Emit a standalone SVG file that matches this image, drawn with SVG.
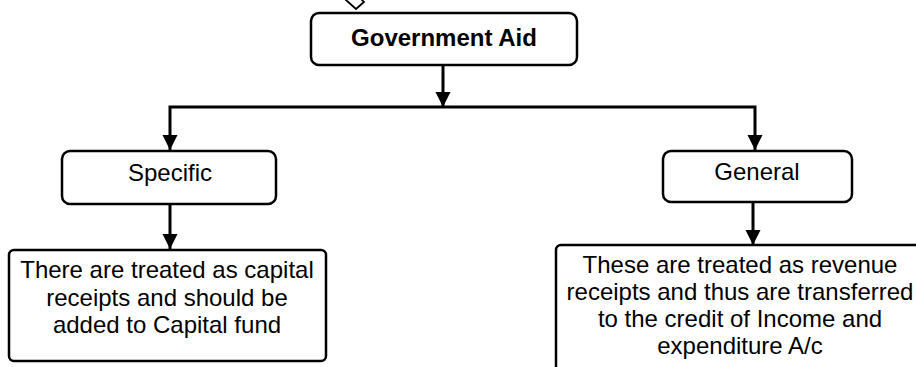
<svg xmlns="http://www.w3.org/2000/svg" width="916" height="367" viewBox="0 0 916 367">
  <style>
    .box { fill: #ffffff; stroke: #000000; stroke-width: 2.5; }
    .lbl { font-family: "Liberation Sans", Arial, sans-serif; font-size: 24px; fill: #000000; text-anchor: middle; }
    .bold { font-weight: bold; }
    .wire { fill: none; stroke: #000000; stroke-width: 3; stroke-linejoin: miter; }
  </style>
  <defs>
    <marker id="arrow" markerUnits="userSpaceOnUse" markerWidth="16" markerHeight="16" refX="15" refY="7.5" orient="auto">
      <path d="M0,0 L15,7.5 L0,15 Z" fill="#000000"/>
    </marker>
  </defs>

  <rect width="916" height="367" fill="#ffffff"/>

  <!-- small tilted tab above the root box -->
  <polygon points="346,0 356,9 364,2 355,-7" fill="#ffffff" stroke="#000000" stroke-width="1.8"/>

  <g id="connectors">
    <line class="wire" x1="443" y1="65" x2="443" y2="107" marker-end="url(#arrow)"/>
    <path class="wire" d="M443,107 H170 V150" marker-end="url(#arrow)"/>
    <path class="wire" d="M443,107 H755 V150" marker-end="url(#arrow)"/>
    <line class="wire" x1="170" y1="204" x2="170" y2="249" marker-end="url(#arrow)"/>
    <line class="wire" x1="753" y1="202" x2="753" y2="245" marker-end="url(#arrow)"/>
  </g>

  <g id="government-aid">
    <rect class="box" x="311" y="13" width="266" height="52" rx="8"/>
    <text class="lbl bold" x="444" y="46">Government Aid</text>
  </g>

  <g id="specific">
    <rect class="box" x="62" y="151" width="214" height="53" rx="8"/>
    <text class="lbl" x="170" y="181">Specific</text>
  </g>

  <g id="general">
    <rect class="box" x="663" y="151" width="189" height="51" rx="8"/>
    <text class="lbl" x="757" y="180">General</text>
  </g>

  <g id="capital-treatment">
    <rect class="box" x="9" y="250" width="317" height="111" rx="5"/>
    <text class="lbl" x="167" y="278">There are treated as capital</text>
    <text class="lbl" x="167" y="306">receipts and should be</text>
    <text class="lbl" x="167" y="333">added to Capital fund</text>
  </g>

  <g id="revenue-treatment">
    <rect class="box" x="556" y="245" width="420" height="200" rx="5"/>
    <text class="lbl" x="740" y="273">These are treated as revenue</text>
    <text class="lbl" x="740" y="300">receipts and thus are transferred</text>
    <text class="lbl" x="740" y="327">to the credit of Income and</text>
    <text class="lbl" x="740" y="354">expenditure A/c</text>
  </g>
</svg>
